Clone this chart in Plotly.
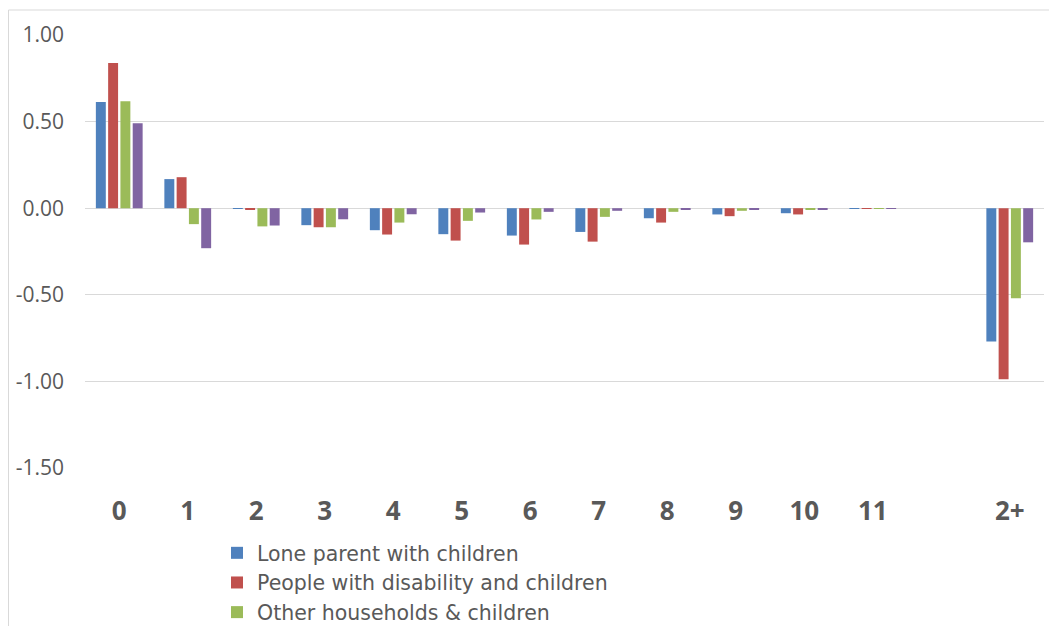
import plotly.graph_objects as go

categories = ["0", "1", "2", "3", "4", "5", "6", "7", "8", "9", "10", "11", " ", "2+"]

lone_parent = [0.613, 0.168, -0.004, -0.098, -0.127, -0.150, -0.158, -0.137, -0.058, -0.036, -0.029, -0.003, None, -0.769]
disability = [0.838, 0.179, -0.005, -0.110, -0.152, -0.187, -0.210, -0.193, -0.083, -0.046, -0.036, -0.003, None, -0.988]
other_hh = [0.618, -0.092, -0.105, -0.110, -0.083, -0.073, -0.065, -0.050, -0.021, -0.015, -0.005, -0.003, None, -0.520]
fourth = [0.491, -0.231, -0.100, -0.064, -0.035, -0.025, -0.021, -0.015, -0.005, -0.005, -0.005, -0.003, None, -0.197]

y_tick_vals = [-1.5, -1.0, -0.5, 0.0, 0.5, 1.0]
y_tick_text = ["-1.50", "-1.00", "-0.50", "0.00", "0.50", "1.00"]

series_names = ["Lone parent with children", "People with disability and children",
                "Other households & children", "Households with children"]
colors = ["#4F81BD", "#C0504D", "#9BBB59", "#8064A2"]
show_legend = [True, True, True, False]

fig = go.Figure()
for name, vals, col, sl in zip(series_names, [lone_parent, disability, other_hh, fourth], colors, show_legend):
    fig.add_trace(go.Bar(x=categories, y=vals, name=name, marker=dict(color=col, line=dict(width=0)),
                         showlegend=sl))

# page body has an 8px margin; figure coordinates below are page coords minus 8
W, H = 1041, 618
ml, mr, mt, mb = 77, 5, 27, 158
pw, ph = W - ml - mr, H - mt - mb

def px_x(p):
    return (p - ml) / pw

def px_y(p):
    return (H - mb - p) / ph

fig.update_layout(
    width=W, height=H,
    margin=dict(l=ml, r=mr, t=mt, b=mb, autoexpand=False),
    paper_bgcolor="white", plot_bgcolor="white",
    barmode="group", bargap=0.283, bargroupgap=0.19,
    font=dict(family="Open Sans, Liberation Sans, sans-serif", color="#595959"),
    showlegend=True,
    legend=dict(x=px_x(209), y=px_y(525), xanchor="left", yanchor="top",
                font=dict(size=20.5, color="#595959", family="DejaVu Sans, sans-serif"),
                traceorder="normal", bgcolor="rgba(0,0,0,0)", tracegroupgap=0),
    xaxis=dict(type="category", categoryorder="array", categoryarray=categories,
               showgrid=False, showline=False, zeroline=False, ticks="",
               tickfont=dict(size=26, color="#595959", family="Open Sans, sans-serif", weight="bold"),
               ticklabelstandoff=25),
    yaxis=dict(range=[-1.5, 1.0], tickmode="array", tickvals=y_tick_vals, ticktext=y_tick_text,
               showgrid=True, gridcolor="#D9D9D9", gridwidth=1, zeroline=True, zerolinecolor="#D9D9D9",
               zerolinewidth=1, showline=False, ticks="",
               tickfont=dict(size=21, color="#595959"), ticklabelstandoff=20),
    shapes=[
        dict(type="line", xref="paper", yref="paper", x0=px_x(0.5), x1=px_x(1060), y0=px_y(2), y1=px_y(2),
             line=dict(color="#D9D9D9", width=1)),
        dict(type="line", xref="paper", yref="paper", x0=px_x(0.5), x1=px_x(0.5), y0=px_y(2), y1=px_y(640),
             line=dict(color="#D9D9D9", width=1)),
    ],
)

fig.write_html("out.html")
